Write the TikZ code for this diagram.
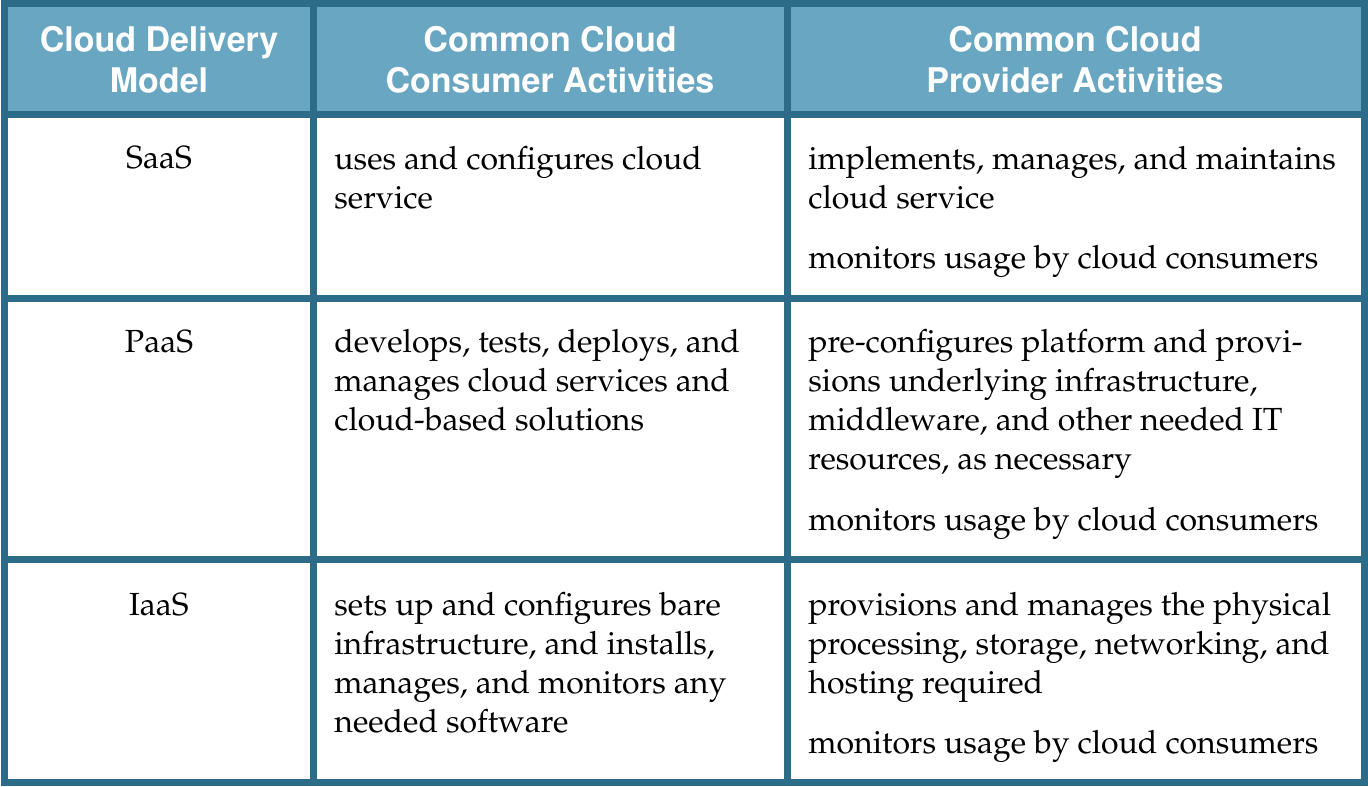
\documentclass[tikz,border=0pt]{standalone}
\usepackage[T1]{fontenc}
\usepackage{mathpazo}
\usepackage{helvet}
\usetikzlibrary{positioning}
\definecolor{rulecol}{RGB}{44,108,136}
\definecolor{headcol}{RGB}{104,166,193}
\tikzset{tableline/.style={draw=rulecol, line width=3.5pt},
  headtext/.style={font=\fontsize{17}{20.5}\sffamily\bfseries, text=white,
    align=center, anchor=base, inner sep=0pt},
  modeltext/.style={font=\fontsize{16}{19.5}\selectfont, anchor=base,
    inner sep=0pt},
  celltext/.style={font=\fontsize{16}{19.5}\selectfont, align=left,
    anchor=base west, inner sep=0pt}}

\begin{document}
\begin{tikzpicture}[x=0.5pt,y=-0.5pt]
  \useasboundingbox (0,0) rectangle (1368,786);
  \fill[headcol] (4,4) rectangle (1364,114);
  % header (nodes sit on their last line)
  \node[headtext] (hmodel) at (159,93) {Cloud Delivery\\Model};
  \node[headtext] (hcons) at (550,93) {Common Cloud\\Consumer Activities};
  \node[headtext] (hprov) at (1075,93) {Common Cloud\\Provider Activities};
  % SaaS
  \node[modeltext] (saas) at (159,169) {SaaS};
  \node[celltext] (saascons) at (334,208) {uses and configures cloud\\service};
  \node[celltext] (saasprov) at (808,208) {implements, manages, and maintains\\cloud service};
  \node[celltext] (saasmon) at (808,268) {monitors usage by cloud consumers};
  % PaaS
  \node[modeltext] (paas) at (159,352) {PaaS};
  \node[celltext] (paascons) at (334,430) {develops, tests, deploys, and\\manages cloud services and\\cloud-based solutions};
  \node[celltext] (paasprov) at (808,469) {pre-configures platform and provi-\\sions underlying infrastructure,\\middleware, and other needed IT\\resources, as necessary};
  \node[celltext] (paasmon) at (808,530) {monitors usage by cloud consumers};
  % IaaS
  \node[modeltext] (iaas) at (159,615) {IaaS};
  \node[celltext] (iaascons) at (334,732) {sets up and configures bare\\infrastructure, and installs,\\manages, and monitors any\\needed software};
  \node[celltext] (iaasprov) at (808,693) {provisions and manages the physical\\processing, storage, networking, and\\hosting required};
  \node[celltext] (iaasmon) at (808,753) {monitors usage by cloud consumers};
  % rules
  \foreach \y in {114.5,298.5,559.5}
    \draw[tableline] (4,\y) -- (1364,\y);
  \foreach \x in {313,787}
    \draw[tableline] (\x,4) -- (\x,782);
  \draw[tableline] (4,3.5) rectangle (1364,782.5);
\end{tikzpicture}
\end{document}
